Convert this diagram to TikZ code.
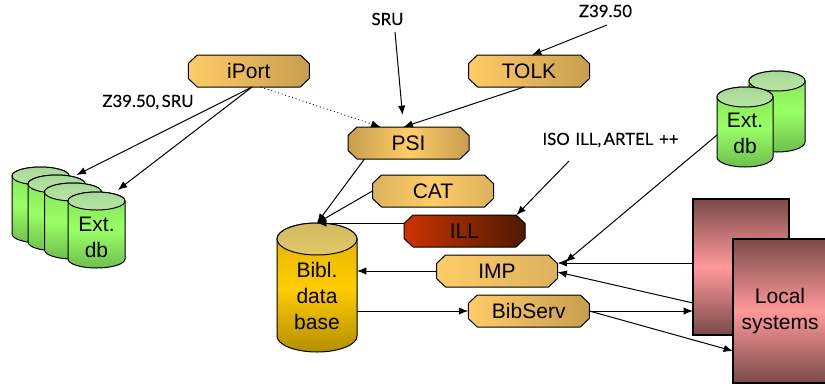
\documentclass[tikz,border=0pt]{standalone}
\usepackage{fontspec}
\setmainfont{Liberation Sans}
\newfontfamily\labelfont[FakeBold=0.3,WordSpace=0.55]{Lato}
\usetikzlibrary{arrows.meta}
\newcommand{\dbcyl}[8]{% name, left, top, width, height, ry, body style, cap style
  \path[cylline,#7] (#2,#3+#6) -- (#2,#3+#5-#6)
     arc[start angle=180,end angle=0,x radius=#4/2,y radius=#6]
     -- (#2+#4,#3+#6)
     arc[start angle=0,end angle=-180,x radius=#4/2,y radius=#6] -- cycle;
  \path[cylline,#8] (#2+#4/2,#3+#6) ellipse[x radius=#4/2,y radius=#6];
  \node[minimum width=#4*0.75pt,minimum height=#5*0.75pt,inner sep=0pt,outer sep=0pt] (#1) at (#2+#4/2,#3+#5/2) {};
}
\newcommand{\octa}[5]{% name, cx, cy, shading, text
  \path[octline,#4] (#2-60.5,#3-7.5) -- (#2-51.5,#3-16) -- (#2+51.5,#3-16) -- (#2+60.5,#3-7.5)
     -- (#2+60.5,#3+7.5) -- (#2+51.5,#3+16) -- (#2-51.5,#3+16) -- (#2-60.5,#3+7.5) -- cycle;
  \node[octtext] (#1) at (#2,#3) {#5};
}
\tikzset{
  x=0.75pt,y=-0.75pt,
  octline/.style={draw=black,line width=0.75pt},
  octtext/.style={rectangle,minimum width=90.75pt,minimum height=24pt,inner sep=0pt,outer sep=0pt,
    font=\fontsize{15.75}{19.5}\selectfont},
  cylline/.style={draw=black,line width=0.75pt},
  greenbody/.style={top color=green1,bottom color=green3,middle color=green2},
  greencap/.style={top color=greencapa,bottom color=greencapb},
  yellowbody/.style={top color=yellow1,bottom color=yellow3,middle color=yellow2},
  yellowcap/.style={top color=ycapa,bottom color=ycapb},
  sysbox/.style={rectangle,draw=black,line width=0.9pt,inner sep=0pt,outer sep=0pt,
    top color=red1,bottom color=red1,middle color=red2},
  txt/.style={align=center,inner sep=0pt,font=\fontsize{15.75}{19.5}\selectfont},
  lab/.style={inner sep=0pt,font=\labelfont\fontsize{12.6}{16}\selectfont},
  conn/.style={line width=0.75pt,-{Latex[length=7pt,width=5.5pt]}},
  dotconn/.style={conn,dotted,line width=0.6pt},
}
\definecolor{gold}{HTML}{FFCC66}
\definecolor{golddk}{HTML}{C79E50}
\definecolor{goldmd}{HTML}{DDB25E}
\definecolor{illa}{HTML}{CC3300}
\definecolor{illb}{HTML}{4D1A00}
\definecolor{green1}{HTML}{88E05A}
\definecolor{green2}{HTML}{99FF66}
\definecolor{green3}{HTML}{6FBF4C}
\definecolor{greencapa}{HTML}{A8D898}
\definecolor{greencapb}{HTML}{B8E6A4}
\definecolor{yellow1}{HTML}{DDAF00}
\definecolor{yellow2}{HTML}{FFCC00}
\definecolor{yellow3}{HTML}{B38F00}
\definecolor{ycapa}{HTML}{D4B860}
\definecolor{ycapb}{HTML}{E0C868}
\definecolor{red1}{HTML}{7A4A4A}
\definecolor{red2}{HTML}{FF9999}
\begin{document}
\begin{tikzpicture}
\path[use as bounding box] (0,0) rectangle (825,390);
% octagons
\octa{iport}{248.75}{71}{left color=gold,right color=golddk}{iPort}
\octa{tolk}{529}{71}{left color=gold,right color=golddk}{TOLK}
\octa{psi}{408.5}{143}{left color=golddk,right color=golddk,middle color=gold}{PSI}
\octa{cat}{433}{191}{left color=goldmd,right color=goldmd,middle color=gold}{CAT}
\octa{ill}{464.5}{231}{left color=illa,right color=illb}{ILL}
\octa{imp}{497}{271}{left color=gold,right color=goldmd}{IMP}
\octa{bibserv}{528.75}{311}{left color=gold,right color=golddk}{BibServ}
% left cylinders
\dbcyl{da}{12}{167}{57}{76}{9}{greenbody}{greencap}
\dbcyl{db}{28}{175}{57}{76}{9}{greenbody}{greencap}
\dbcyl{dc}{44.5}{183}{57}{76}{9}{greenbody}{greencap}
\dbcyl{dd}{68}{192}{57}{76}{9}{greenbody}{greencap}
\node[txt] (ddt) at (96.5,237) {Ext.\\db};
% right cylinders
\dbcyl{ea}{749}{71}{56}{81}{10}{greenbody}{greencap}
\dbcyl{eb}{717}{87}{56}{80}{10}{greenbody}{greencap}
\node[txt] (ebt) at (745,133) {Ext.\\db};
% bibl
\dbcyl{bibl}{277}{223}{80}{129}{16}{yellowbody}{yellowcap}
\node[txt] (biblt) at (317,296) {Bibl.\\data\\base};
% local systems
\node[sysbox,minimum width=72pt,minimum height=102pt] (sysa) at (741,267) {};
\node[sysbox,minimum width=72pt,minimum height=108pt] (sysb) at (781,311) {};
\node[txt] (sysbt) at (780,311.5) {Local\\systems};
% labels
\node[lab] (sru) at (387.5,19) {SRU};
\node[lab] (zt) at (605.5,11) {Z39.50};
\node[lab] (zs) at (148,102) {Z39.50, SRU};
\node[lab] (iso) at (610.5,140) {ISO\hspace{2.5pt} ILL, ARTEL\hspace{2.5pt} ++};
% connectors
\coordinate (srut) at (395,32);
\coordinate (zte) at (607,25);
\coordinate (isoe) at (569,161);
\draw[conn] (srut) -- ([xshift=-4.5pt,yshift=9pt]psi.north);
\draw[conn] (zte) -- ([xshift=2.25pt]tolk.north);
\draw[conn] ([xshift=-3.75pt]tolk.south) -- ([xshift=-3.75pt]psi.north);
\draw[dotconn] ([xshift=9pt]iport.south) -- ([xshift=-21pt]psi.north);
\draw[conn] ([xshift=2.5pt]iport.south) -- ([xshift=27pt,yshift=-6pt]da.north);
\draw[conn] ([xshift=2.5pt]iport.south) -- ([xshift=16pt,yshift=1.5pt]dd.north);
\draw[conn] ([xshift=-33pt]psi.south) -- (bibl.north);
\draw[conn] (cat.west) -- (bibl.north);
\draw[conn] (ill.west |- bibl.north) -- (bibl.north);
\draw[conn] (imp.west) -- (imp.west -| bibl.east);
\draw[conn] (bibserv.west -| bibl.east) -- (bibserv.west);
\draw[conn] (isoe) -- ([xshift=39pt]ill.north);
\draw[conn] ([yshift=-6pt]eb.west) -- ([xshift=6pt,yshift=6.75pt]imp.east);
\draw[conn] ([yshift=3pt]sysa.west) -- ([yshift=6pt]imp.east);
\draw[conn] ([yshift=-27pt]sysa.west) -- ([yshift=-0.75pt]imp.east);
\draw[conn] (bibserv.east) -- (bibserv.east -| sysa.west);
\draw[conn] (bibserv.east) -- ([yshift=-30pt]sysb.west);
\end{tikzpicture}
\end{document}
